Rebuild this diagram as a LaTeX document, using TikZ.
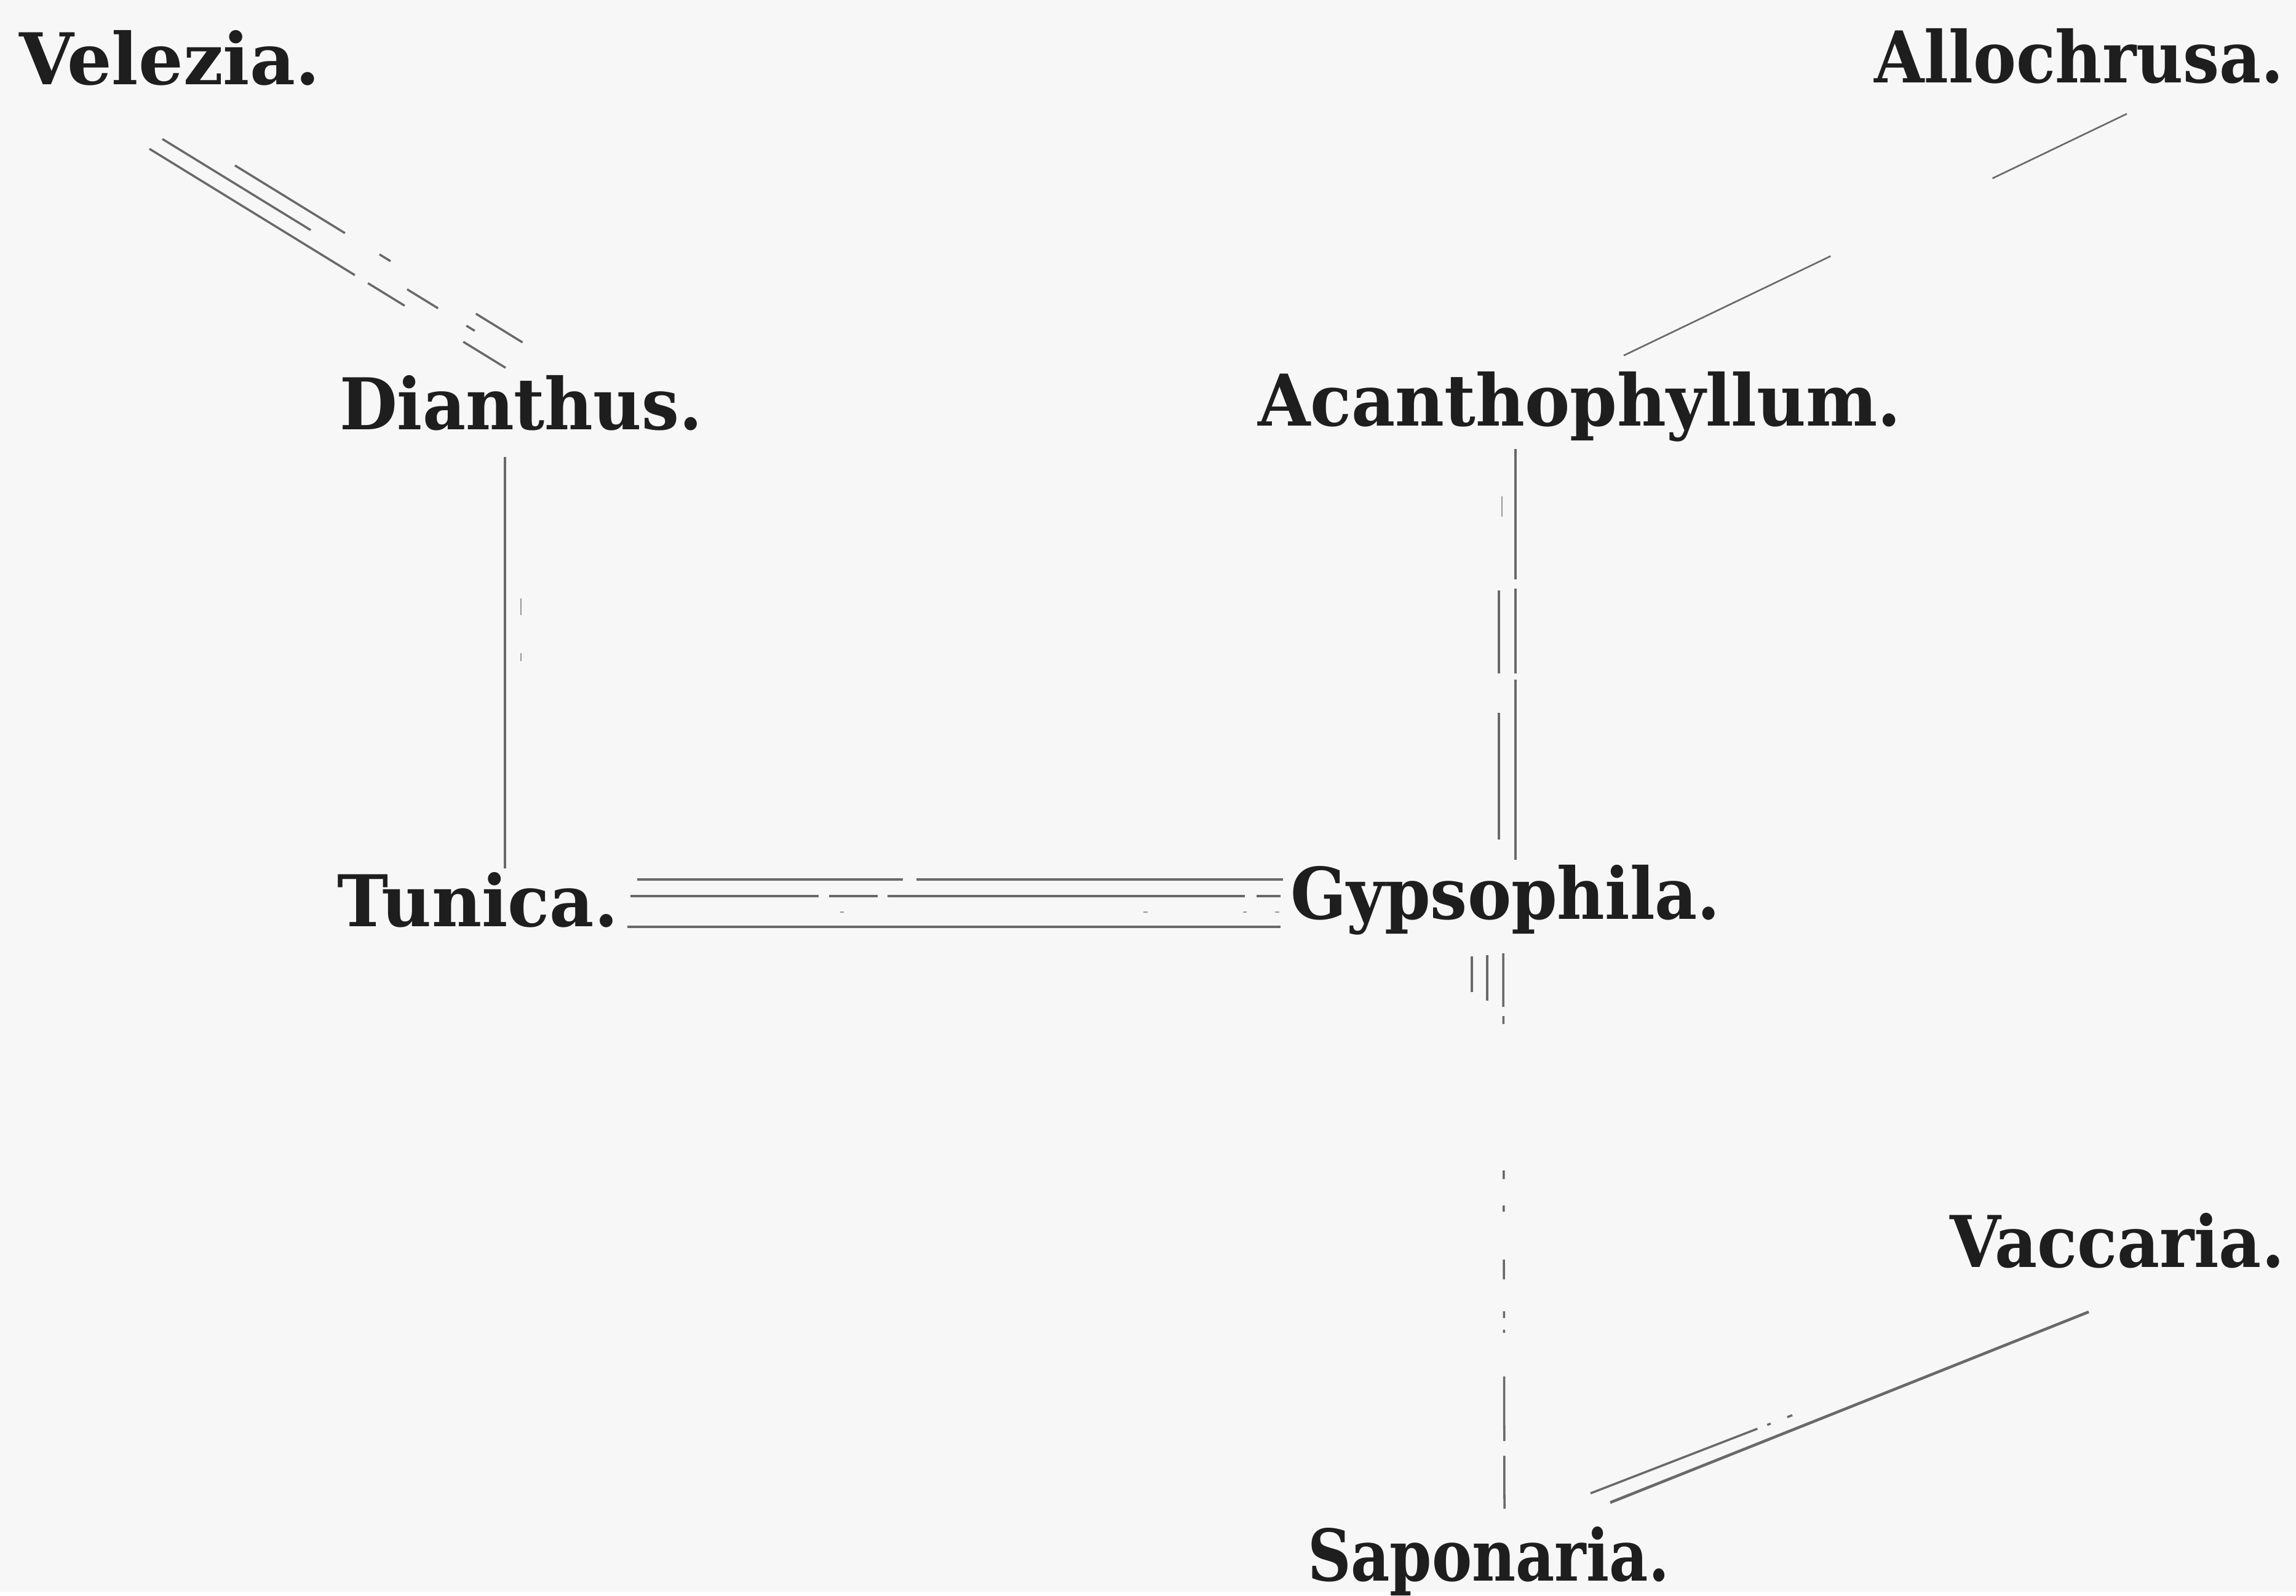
\documentclass[tikz,border=0pt]{standalone}
\usepackage{fontspec}
\setmainfont{DejaVu Serif}
\definecolor{bg}{RGB}{247,247,247}
\definecolor{ink}{RGB}{30,30,30}
\definecolor{rulec}{RGB}{105,105,105}
\newcommand{\lab}[2]{\resizebox{#1}{\height}{\bfseries #2}}
\tikzset{
  lbl/.style={anchor=base west, inner sep=0pt, outer sep=0pt, text=ink, font=\fontsize{33}{33}\selectfont},
  link/.style={draw=rulec, line width=1.0pt, line cap=butt},
  fine link/.style={draw=rulec, line width=0.75pt, line cap=butt},
  speck/.style={draw=rulec!70, line width=0.7pt, line cap=butt},
}
\begin{document}
\begin{tikzpicture}[x=0.1mm, y=-0.1mm]
\fill[bg] (0,0) rectangle (3733,2588);

% labels
\node[lbl] (vel) at (31,137)    {\lab{48.9mm}{Velezia.}};
\node[lbl] (all) at (3047,134)  {\lab{66.6mm}{Allochrusa.}};
\node[lbl] (dia) at (552,698)   {\lab{59.0mm}{Dianthus.}};
\node[lbl] (aca) at (2045,692)  {\lab{104.6mm}{Acanthophyllum.}};
\node[lbl] (tun) at (548,1506)  {\lab{45.7mm}{Tunica.}};
\node[lbl] (gyp) at (2098,1494) {\lab{69.9mm}{Gypsophila.}};
\node[lbl] (vac) at (3170,2060) {\lab{54.4mm}{Vaccaria.}};
\node[lbl] (sap) at (2126,2570) {\lab{58.8mm}{Saponaria.}};

% Velezia -- Dianthus (three broken parallel strokes)
\coordinate (vdA1) at (243,242); \coordinate (vdA2) at (822,598);
\coordinate (vdB1) at (264,226); \coordinate (vdB2) at (772,538);
\coordinate (vdC1) at (382,269); \coordinate (vdC2) at (850,557);
\draw[link, dash pattern=on 39.2mm off 2.5mm on 7mm off 11.2mm on 8.1mm] (vdA1) -- (vdA2);
\draw[link, dash pattern=on 28.3mm off 18.4mm on 5.9mm off 5.4mm on 1.6mm] (vdB1) -- (vdB2);
\draw[link, dash pattern=on 21mm off 6.6mm on 2.1mm off 16.3mm on 8.9mm] (vdC1) -- (vdC2);

% Allochrusa -- Acanthophyllum
\coordinate (aa1) at (2640,578); \coordinate (aa2) at (3458,185);
\draw[fine link, dash pattern=on 37.3mm off 29.2mm on 24.3mm] (aa1) -- (aa2);

% Dianthus -- Tunica
\coordinate (dt1) at (821,743); \coordinate (dt2) at (821,1412);
\draw[link] (dt1) -- (dt2);
\coordinate (dt3) at (847,973); \coordinate (dt4) at (847,1075);
\draw[speck, dash pattern=on 2.7mm off 6.2mm on 1.3mm] (dt3) -- (dt4);

% Acanthophyllum -- Gypsophila (double)
\coordinate (ag1) at (2464,730); \coordinate (ag2) at (2464,1398);
\draw[link, dash pattern=on 21.2mm off 1.5mm on 13.8mm off 1mm on 29.3mm] (ag1) -- (ag2);
\coordinate (ag3) at (2437,960); \coordinate (ag4) at (2437,1365);
\draw[link, dash pattern=on 13.5mm off 6.4mm on 20.6mm] (ag3) -- (ag4);
\coordinate (ag5) at (2442,807); \coordinate (ag6) at (2442,840);
\draw[speck] (ag5) -- (ag6);

% Tunica -- Gypsophila (triple)
\coordinate (tg1a) at (1036,1430); \coordinate (tg1b) at (2086,1430);
\coordinate (tg2a) at (1025,1457); \coordinate (tg2b) at (2082,1457);
\coordinate (tg3a) at (1020,1507); \coordinate (tg3b) at (2082,1507);
\draw[link, dash pattern=on 43.2mm off 2.2mm on 59.6mm] (tg1a) -- (tg1b);
\draw[link, dash pattern=on 30.6mm off 1.7mm on 7.9mm off 1.6mm on 58.1mm off 1.9mm on 3.9mm] (tg2a) -- (tg2b);
\draw[link] (tg3a) -- (tg3b);
\coordinate (tg4a) at (1366,1483); \coordinate (tg4b) at (2080,1483);
\draw[speck, dash pattern=on 0.6mm off 48.7mm on 0.7mm off 15.5mm on 0.6mm off 4.6mm on 0.7mm] (tg4a) -- (tg4b);

% Gypsophila -- Saponaria
\coordinate (gs1a) at (2393,1555); \coordinate (gs1b) at (2393,1613);
\coordinate (gs2a) at (2418,1553); \coordinate (gs2b) at (2418,1627);
\draw[link] (gs1a) -- (gs1b);
\draw[link] (gs2a) -- (gs2b);
\coordinate (gs3a) at (2444,1550); \coordinate (gs3b) at (2446,2453);
\draw[link, dash pattern=on 8.7mm off 1.5mm on 1.3mm off 23.8mm on 1.4mm off 4.3mm on 1.0mm off 7.8mm on 3.2mm off 5.2mm on 1.1mm off 1.9mm on 0.5mm off 7.1mm on 10.5mm off 2.4mm on 8.6mm] (gs3a) -- (gs3b);

% Saponaria -- Vaccaria (double)
\coordinate (sv1a) at (2586,2428); \coordinate (sv1b) at (2914,2301);
\coordinate (sv2a) at (2618,2443); \coordinate (sv2b) at (3396,2133);
\draw[link, dash pattern=on 29.1mm off 1.7mm on 0.6mm off 2.9mm on 0.9mm] (sv1a) -- (sv1b);
\draw[link, line width=1.3pt] (sv2a) -- (sv2b);
\end{tikzpicture}
\end{document}
